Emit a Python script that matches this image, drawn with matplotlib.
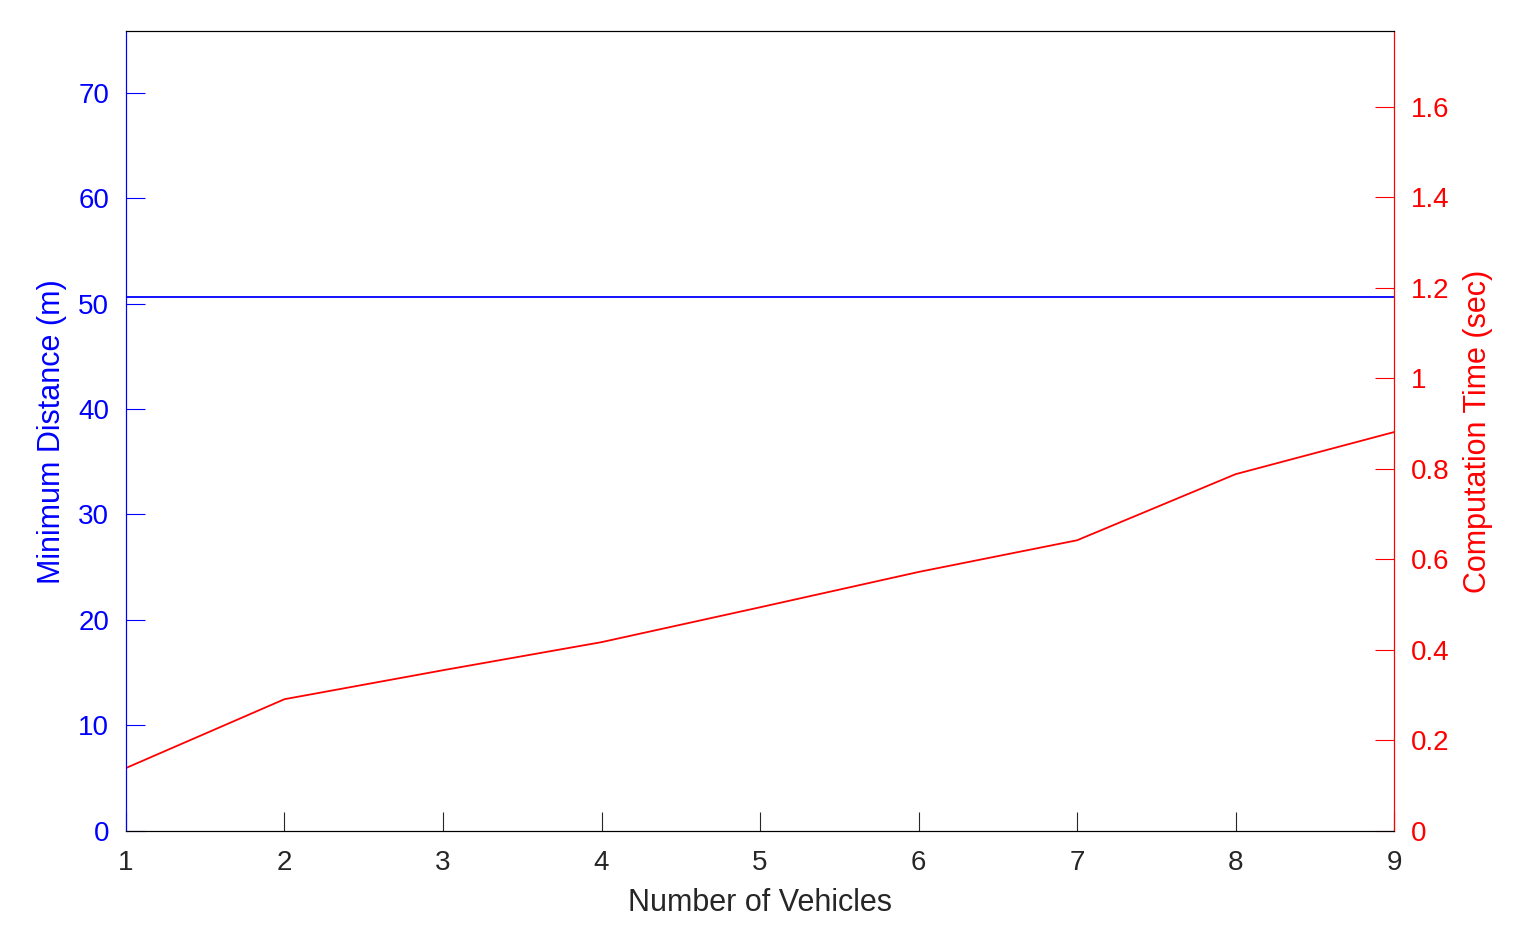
import matplotlib
matplotlib.use("Agg")
import matplotlib.pyplot as plt

plt.rcParams['font.family'] = ['Liberation Sans', 'DejaVu Sans']

vehicles = [1, 2, 3, 4, 5, 6, 7, 8, 9]
min_dist = [50.6, 50.6, 50.6, 50.6, 50.6, 50.6, 50.6, 50.6, 50.6]
comp_time = [0.139, 0.291, 0.355, 0.417, 0.494, 0.572, 0.642, 0.788, 0.881]

fig = plt.figure(figsize=(15.32, 9.5), dpi=100)
ax1 = fig.add_axes([0.0822, 0.1253, 0.8278, 0.8417])
ax2 = ax1.twinx()

ax1.plot(vehicles, min_dist, color='blue', lw=1.3)
ax2.plot(vehicles, comp_time, color='red', lw=1.3)

ax1.set_xlim(1, 9)
ax1.set_ylim(0, 75.8)
ax2.set_ylim(0, 1.766)
ax1.set_yticks(range(0, 71, 10))
ax2.set_yticks([0, 0.2, 0.4, 0.6, 0.8, 1, 1.2, 1.4, 1.6])
ax2.set_yticklabels(['0', '0.2', '0.4', '0.6', '0.8', '1', '1.2', '1.4', '1.6'])

ax1.set_xlabel('Number of Vehicles', fontsize=22, color='#262626', labelpad=8)
ax1.set_ylabel('Minimum Distance (m)', fontsize=22, color='blue', labelpad=8)
ax2.set_ylabel('Computation Time (sec)', fontsize=22, color='red', labelpad=10)

ax1.tick_params(axis='x', direction='in', length=14, labelsize=20, colors='#262626', pad=14)
ax1.tick_params(axis='y', direction='in', length=14, labelsize=20, colors='blue', pad=12)
ax2.tick_params(axis='y', direction='in', length=14, labelsize=20, colors='red', pad=12)
ax2.spines['left'].set_color('blue')
ax2.spines['right'].set_color('red')
ax1.spines['left'].set_color('blue')
ax1.spines['right'].set_color('red')

fig.savefig('out.png', dpi=100)
